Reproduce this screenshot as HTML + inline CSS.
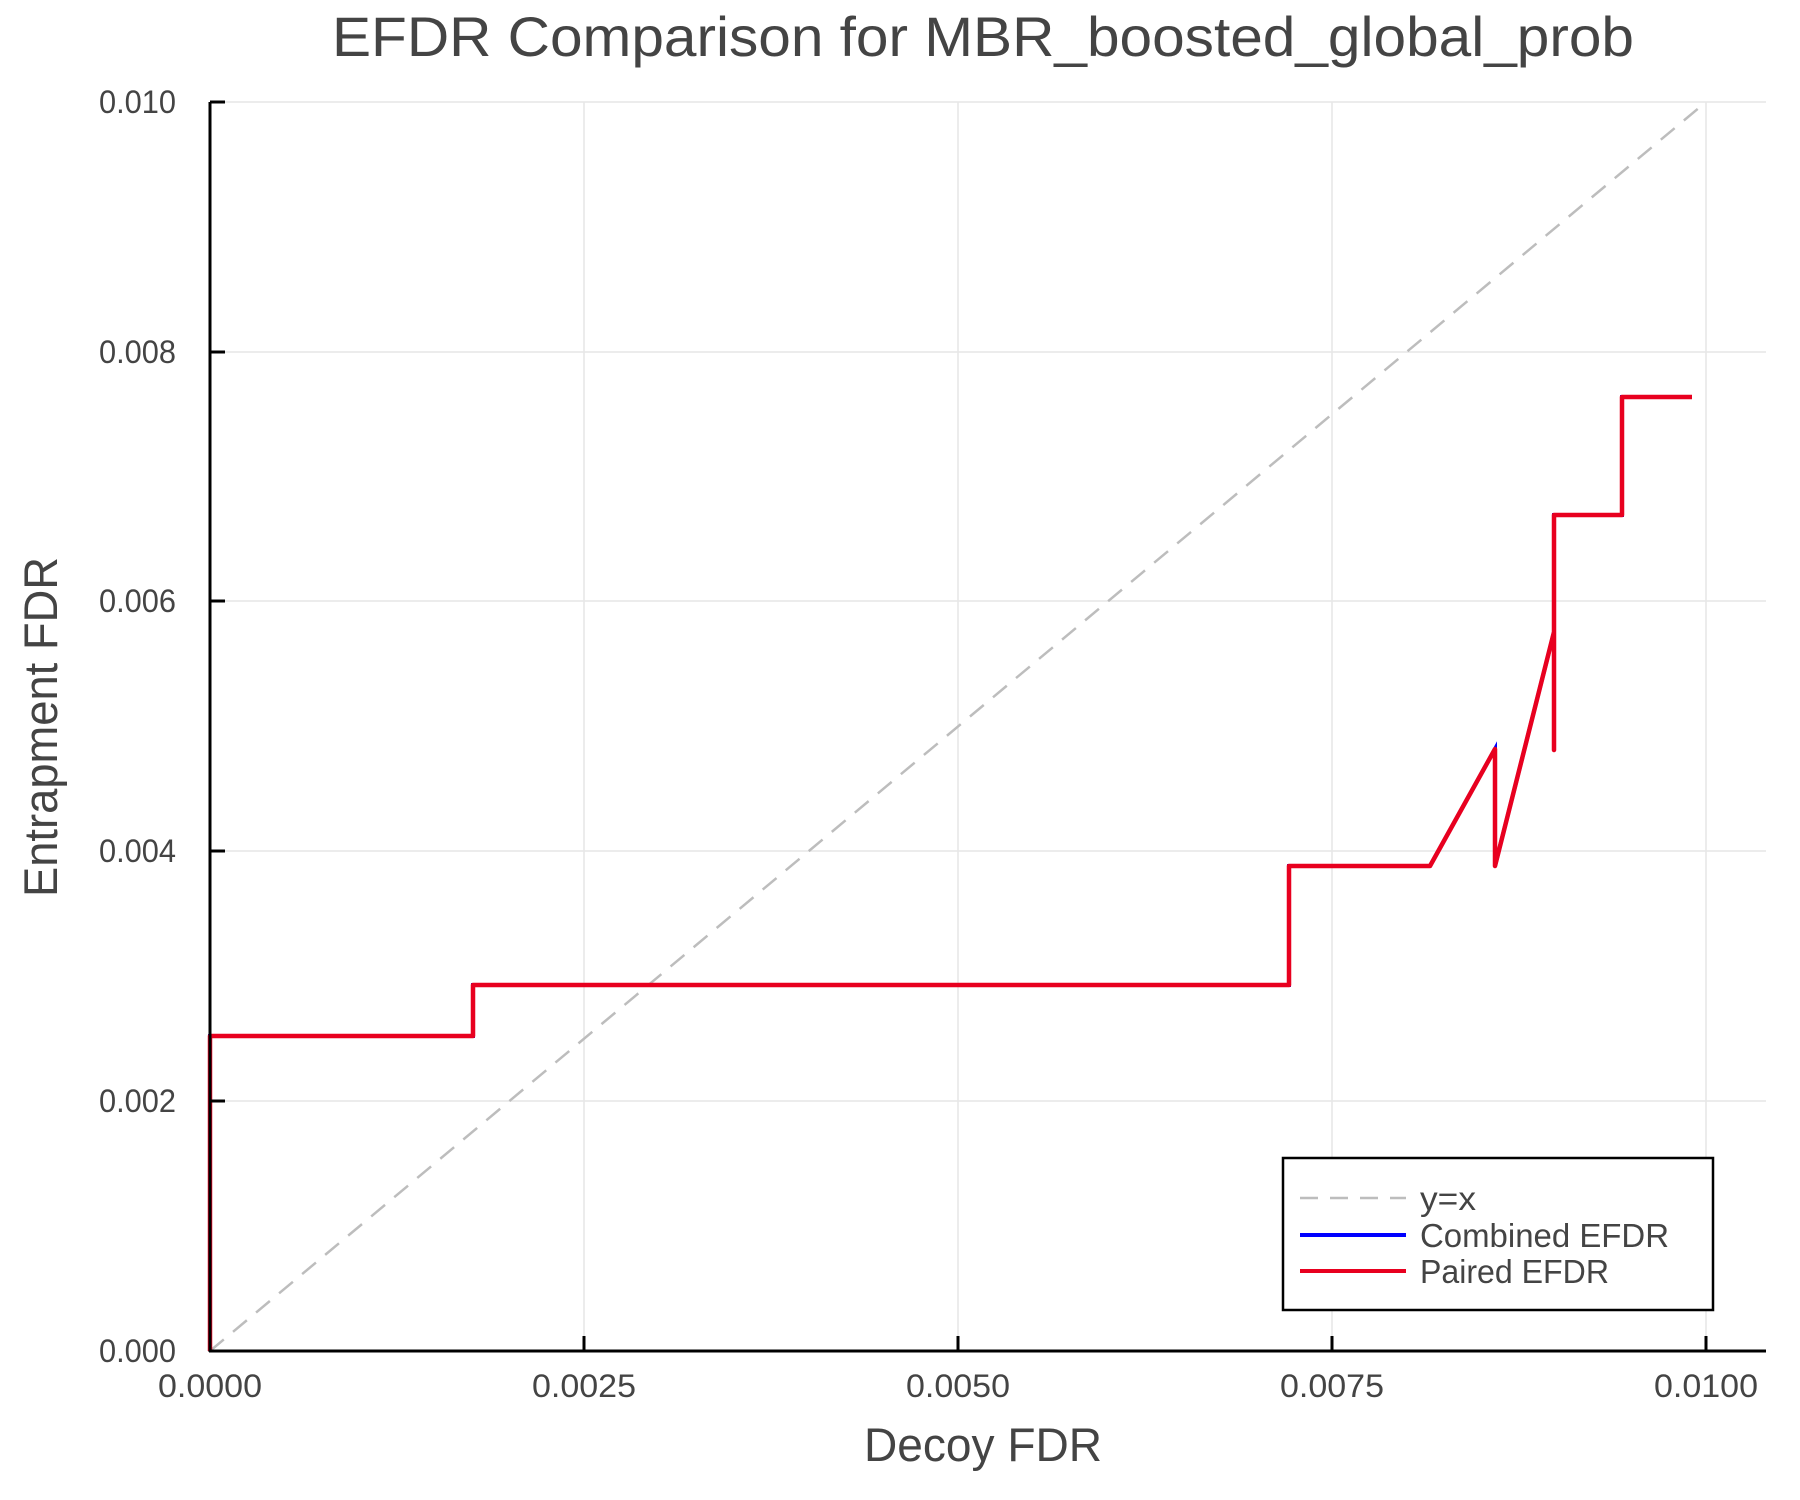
<!DOCTYPE html>
<html><head><meta charset="utf-8"><style>body{margin:0;background:#fff}svg{display:block}</style></head>
<body>
<svg width="1800" height="1500" xmlns="http://www.w3.org/2000/svg" font-family="Liberation Sans, sans-serif" fill="#444">
<rect width="1800" height="1500" fill="#fff"/>
<g stroke="#e6e6e6" stroke-width="1.5">
<line x1="584" y1="102" x2="584" y2="1351"/><line x1="958" y1="102" x2="958" y2="1351"/>
<line x1="1332" y1="102" x2="1332" y2="1351"/><line x1="1706" y1="102" x2="1706" y2="1351"/>
<line x1="210" y1="102" x2="1766" y2="102"/><line x1="210" y1="352" x2="1766" y2="352"/>
<line x1="210" y1="601" x2="1766" y2="601"/><line x1="210" y1="851" x2="1766" y2="851"/>
<line x1="210" y1="1101" x2="1766" y2="1101"/>
</g>
<line x1="210" y1="1351" x2="1706" y2="102" stroke="#bdbdbd" stroke-width="2.5" stroke-dasharray="18,12"/>
<polyline fill="none" stroke="#0000ff" stroke-width="4" points="210,1351 210,1036 473,1036 473,985 1289,985 1289,866 1430,866 1495,749 1495,866 1554,632 1554,750 1554,515 1622,515 1622,397 1692,397"/>
<polyline fill="none" stroke="#e8001f" stroke-width="4.5" stroke-linejoin="round" points="210,1351 210,1036 473,1036 473,985 1289,985 1289,866 1430,866 1495,749 1495,866 1554,632 1554,750 1554,515 1622,515 1622,397 1692,397"/>
<g stroke="#000" stroke-width="3">
<line x1="210" y1="102" x2="210" y2="1352"/><line x1="209" y1="1351" x2="1766" y2="1351"/>
<line x1="210" y1="102" x2="225" y2="102"/><line x1="210" y1="352" x2="225" y2="352"/>
<line x1="210" y1="601" x2="225" y2="601"/><line x1="210" y1="851" x2="225" y2="851"/>
<line x1="210" y1="1101" x2="225" y2="1101"/>
<line x1="584" y1="1351" x2="584" y2="1336"/><line x1="958" y1="1351" x2="958" y2="1336"/>
<line x1="1332" y1="1351" x2="1332" y2="1336"/><line x1="1706" y1="1351" x2="1706" y2="1336"/>
</g>
<g font-size="32" text-anchor="end">
<text x="176" y="113" textLength="77" lengthAdjust="spacingAndGlyphs">0.010</text>
<text x="176" y="363" textLength="77" lengthAdjust="spacingAndGlyphs">0.008</text>
<text x="176" y="612" textLength="77" lengthAdjust="spacingAndGlyphs">0.006</text>
<text x="176" y="862" textLength="77" lengthAdjust="spacingAndGlyphs">0.004</text>
<text x="176" y="1112" textLength="77" lengthAdjust="spacingAndGlyphs">0.002</text>
<text x="176" y="1362" textLength="77" lengthAdjust="spacingAndGlyphs">0.000</text>
</g>
<g font-size="32" text-anchor="middle">
<text x="210" y="1397" textLength="104" lengthAdjust="spacingAndGlyphs">0.0000</text>
<text x="584" y="1397" textLength="104" lengthAdjust="spacingAndGlyphs">0.0025</text>
<text x="958" y="1397" textLength="104" lengthAdjust="spacingAndGlyphs">0.0050</text>
<text x="1332" y="1397" textLength="104" lengthAdjust="spacingAndGlyphs">0.0075</text>
<text x="1706" y="1397" textLength="104" lengthAdjust="spacingAndGlyphs">0.0100</text>
</g>
<text x="983" y="56" font-size="56" text-anchor="middle" textLength="1302" lengthAdjust="spacingAndGlyphs">EFDR Comparison for MBR_boosted_global_prob</text>
<text x="983" y="1461" font-size="47" text-anchor="middle" textLength="238" lengthAdjust="spacingAndGlyphs">Decoy FDR</text>
<text transform="translate(57,727) rotate(-90)" font-size="47" text-anchor="middle" textLength="340" lengthAdjust="spacingAndGlyphs">Entrapment FDR</text>
<rect x="1283" y="1158" width="430" height="152" fill="#fff" stroke="#000" stroke-width="2.5"/>
<line x1="1300" y1="1198" x2="1406" y2="1198" stroke="#bdbdbd" stroke-width="2.5" stroke-dasharray="18,12"/>
<line x1="1300" y1="1235" x2="1406" y2="1235" stroke="#0000ff" stroke-width="4"/>
<line x1="1300" y1="1271" x2="1406" y2="1271" stroke="#e8001f" stroke-width="4"/>
<g font-size="33">
<text x="1420" y="1210" textLength="56" lengthAdjust="spacingAndGlyphs">y=x</text>
<text x="1420" y="1247" textLength="249" lengthAdjust="spacingAndGlyphs">Combined EFDR</text>
<text x="1420" y="1283" textLength="189" lengthAdjust="spacingAndGlyphs">Paired EFDR</text>
</g>
</svg>
</body></html>
